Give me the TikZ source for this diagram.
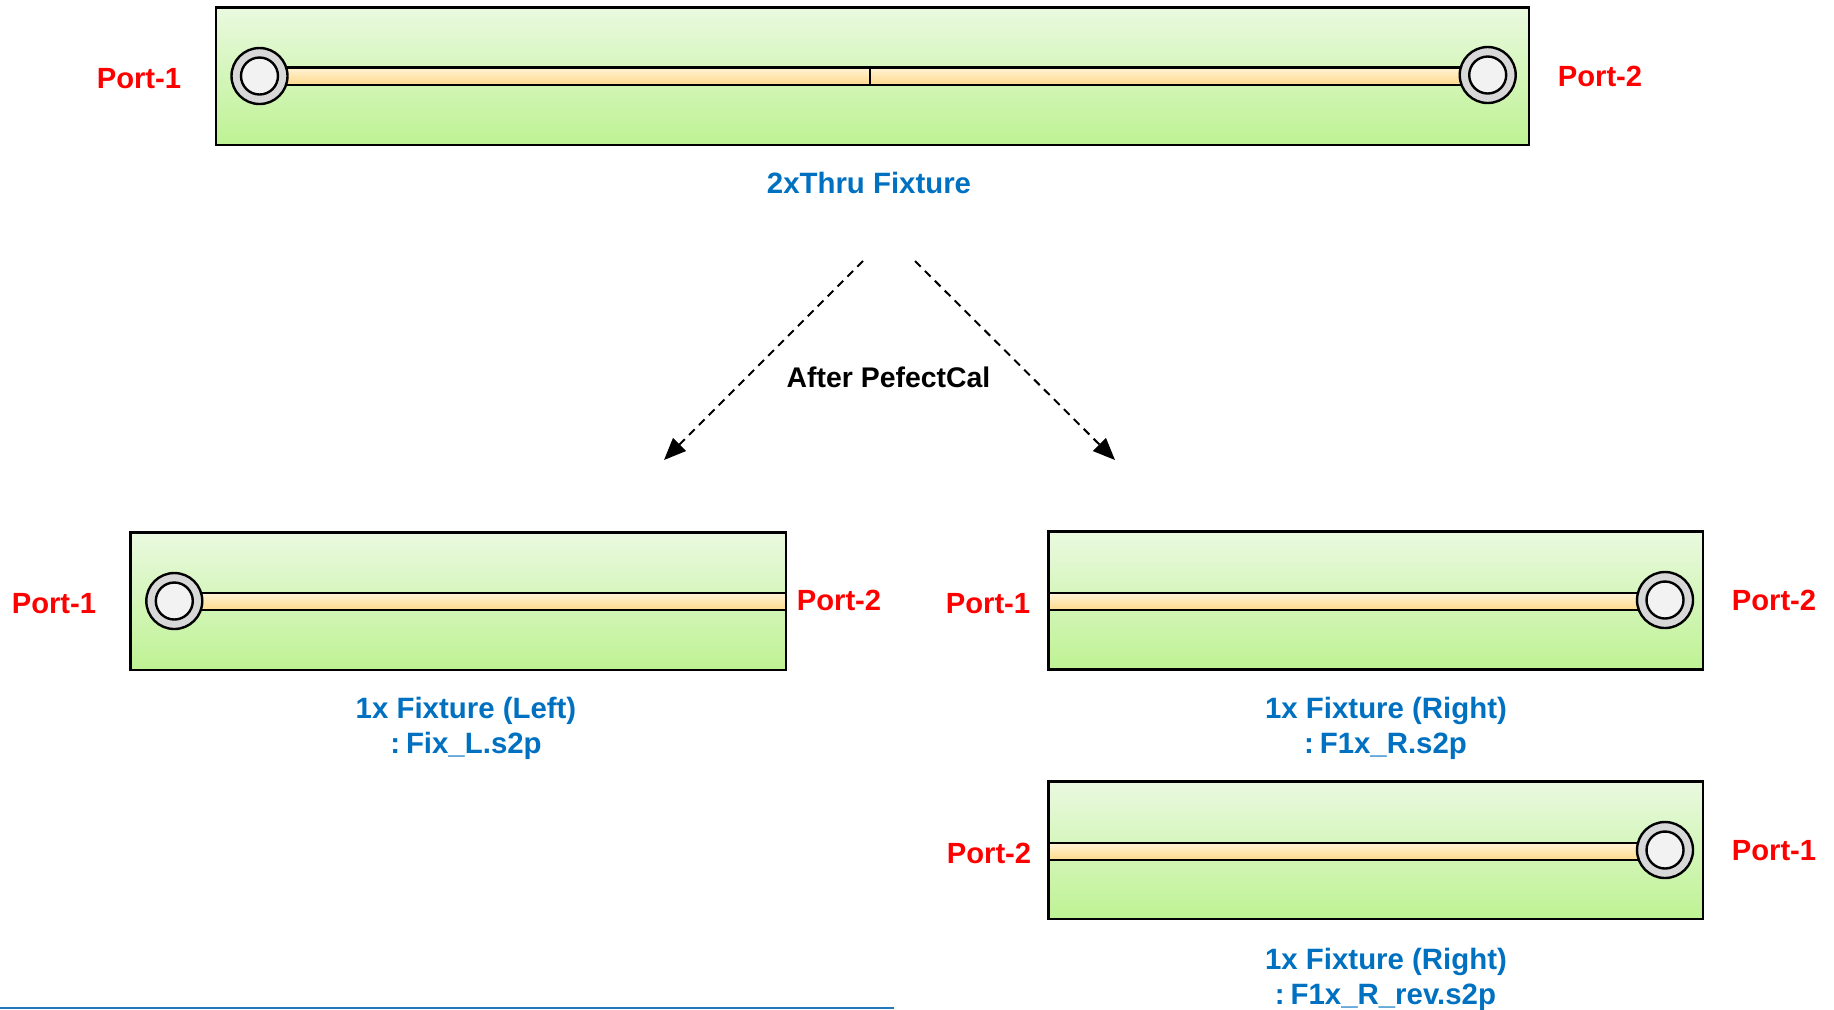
\documentclass[tikz,border=0pt]{standalone}
\usepackage{fontspec}
\setmainfont{Liberation Sans}
\usetikzlibrary{arrows.meta}
\definecolor{lblblue}{HTML}{0070C0}
\definecolor{boardtop}{HTML}{EAF9E0}
\definecolor{boardbot}{HTML}{BEF293}
\definecolor{tracetop}{HTML}{FFF3D6}
\definecolor{tracebot}{HTML}{FFD98A}
\definecolor{ringgray}{HTML}{D8D8D8}
\definecolor{holegray}{HTML}{F2F2F2}
\definecolor{rulecol}{HTML}{1F78BE}
\colorlet{boardmid}{boardtop!50!boardbot}
\tikzset{
  board/.style={draw=black,line width=1.2pt,top color=boardtop,bottom color=boardbot,middle color=boardmid},
  tracebar/.style={draw=black,line width=1.2pt,top color=tracetop,bottom color=tracebot},
  ring/.style={draw=black,line width=1.2pt,fill=ringgray},
  hole/.style={draw=black,line width=1.2pt,fill=holegray},
  portlbl/.style={anchor=base,text=red,font=\bfseries\fontsize{14.6pt}{17pt}\selectfont,inner sep=0pt},
  namelbl/.style={anchor=base,text=lblblue,font=\bfseries\fontsize{14.7pt}{17pt}\selectfont,inner sep=0pt},
  steplbl/.style={anchor=base,text=black,font=\bfseries\fontsize{14.2pt}{17pt}\selectfont,inner sep=0pt},
  flow/.style={draw=black,line width=1pt,dash pattern=on 4pt off 3pt,-{Triangle[length=11pt,width=9pt]}},
}
\begin{document}
\begin{tikzpicture}[x=0.5pt,y=-0.5pt]
\useasboundingbox (0,0) rectangle (1834,1009);
% 2x thru
\draw[board] (216,7.5) rectangle (1529,145);
\draw[tracebar] (259,67.5) rectangle (1487.7,85);
\draw[black,line width=1.2pt] (870,67) -- (870,85);
\draw[ring] (259.5,76) circle[radius=28];
\draw[hole] (259.5,76) circle[radius=18.5];
\draw[ring] (1487.7,75) circle[radius=28];
\draw[hole] (1487.7,75) circle[radius=18.5];
\node[portlbl] (p1a) at (139,88) {Port-1};
\node[portlbl] (p2a) at (1600,86) {Port-2};
\node[namelbl] (nthru) at (869,193) {2xThru Fixture};
% arrows
\coordinate (la) at (863,261);
\coordinate (lb) at (664,460);
\coordinate (ra) at (915,261);
\coordinate (rb) at (1115,460);
\draw[flow] (la) -- (lb);
\draw[flow] (ra) -- (rb);
\node[steplbl] (after) at (888.5,387.5) {After PefectCal};
% left
\draw[board] (130.5,532.5) rectangle (786,670);
\draw[tracebar] (174,593) rectangle (786,610);
\draw[ring] (174.3,601) circle[radius=28];
\draw[hole] (174.3,601) circle[radius=18.5];
\node[portlbl] (p1b) at (54,613) {Port-1};
\node[portlbl] (p2b) at (839,610.5) {Port-2};
\node[namelbl] (nl1) at (466,718) {1x Fixture (Left)};
\node[namelbl] (nl2) at (466,753) {:\hspace{0.2em}Fix\_L.s2p};
% right
\draw[board] (1048.5,531.5) rectangle (1703,669.5);
\draw[tracebar] (1048.5,593) rectangle (1665,610);
\draw[ring] (1665,600) circle[radius=28];
\draw[hole] (1665,600) circle[radius=18.5];
\node[portlbl] (p1c) at (988,613) {Port-1};
\node[portlbl] (p2c) at (1774,610.5) {Port-2};
\node[namelbl] (nr1) at (1386,718) {1x Fixture (Right)};
\node[namelbl] (nr2) at (1385.5,753) {:\hspace{0.2em}F1x\_R.s2p};
% right reversed
\draw[board] (1048.5,781.5) rectangle (1703,919);
\draw[tracebar] (1048.5,843) rectangle (1665,860);
\draw[ring] (1665,850) circle[radius=28];
\draw[hole] (1665,850) circle[radius=18.5];
\node[portlbl] (p2d) at (989,863) {Port-2};
\node[portlbl] (p1d) at (1774,860) {Port-1};
\node[namelbl] (nv1) at (1386,969) {1x Fixture (Right)};
\node[namelbl] (nv2) at (1385.5,1004) {:\hspace{0.2em}F1x\_R\_rev.s2p};
% bottom rule
\draw[rulecol,line width=1.2pt] (0,1008) -- (894,1008);
\end{tikzpicture}
\end{document}
